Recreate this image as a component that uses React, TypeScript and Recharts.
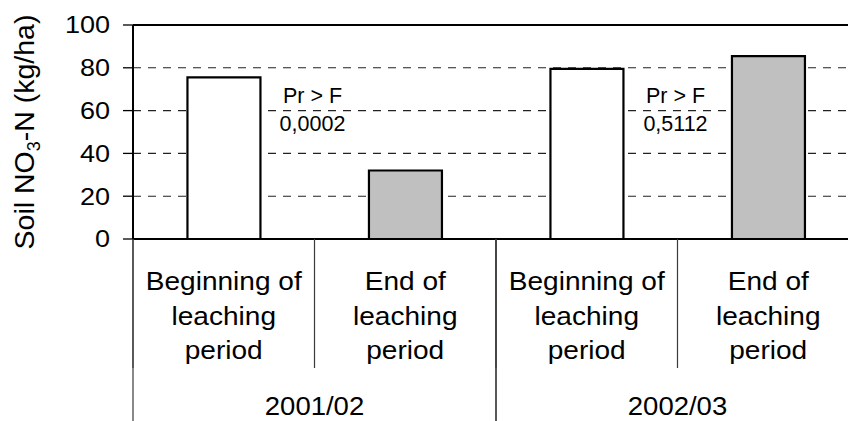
import {
  Bar,
  BarChart,
  CartesianGrid,
  Cell,
  ReferenceDot,
  ReferenceLine,
  XAxis,
  YAxis,
} from 'recharts'

// one entry per bar, in drawing order
const IDS = ['b0102', 'e0102', 'b0203', 'e0203']
const PERIOD_LINES = [
  ['Beginning of', 'leaching', 'period'],
  ['End of', 'leaching', 'period'],
  ['Beginning of', 'leaching', 'period'],
  ['End of', 'leaching', 'period'],
]
const YEARS = ['2001/02', '2001/02', '2002/03', '2002/03']
const STAGES = ['begin', 'end', 'begin', 'end']
const SOIL_NO3 = [75.5, 32, 79.5, 85.5] // kg/ha
const Y_TICKS = [0, 20, 40, 60, 80, 100]

// Pr > F annotations, placed between the two bars of each season
const P_AT = ['b0102', 'b0203']
const P_VALUES = ['0,0002', '0,5112']
const P_LEVEL = 63.5

const data = IDS.map((id, i) => ({
  id,
  year: YEARS[i],
  stage: STAGES[i],
  no3: SOIL_NO3[i],
}))

const FONT = '"Liberation Sans", Arial, Helvetica, sans-serif'
const STAGE_FILL: Record<string, string> = { begin: '#ffffff', end: '#c0c0c0' }

const CHART_W = 880
const CHART_H = 421
const MARGIN = { top: 25, right: 21, bottom: 0, left: 0 }
const Y_AXIS_W = 133
const PERIOD_AXIS_H = 130
const YEAR_AXIS_H = 52
const BAND = (CHART_W - MARGIN.left - MARGIN.right - Y_AXIS_W) / IDS.length

function YTick({ x, y, payload }: any) {
  return (
    <g transform={`translate(${x},${y}) scale(1.15,1)`}>
      <text x={0} y={0} dy={8.4} textAnchor="end" fontSize={23.5} fontFamily={FONT} fill="#000">
        {payload.value}
      </text>
    </g>
  )
}

function PeriodTick({ x, y, payload }: any) {
  const lines = PERIOD_LINES[IDS.indexOf(payload.value)] ?? []
  const left = x - BAND / 2
  return (
    <g>
      <line x1={left} x2={left} y1={y} y2={y + 129} stroke="#3a3a3a" strokeWidth={1.2} />
      <g transform={`translate(${x},${y}) scale(1.1,1)`}>
        {lines.map((t, k) => (
          <text
            key={k}
            x={0}
            y={51 + k * 34.6}
            textAnchor="middle"
            fontSize={25.5}
            fontFamily={FONT}
            fill="#000"
          >
            {t}
          </text>
        ))}
      </g>
    </g>
  )
}

function YearTick({ x, y, payload }: any) {
  return (
    <g>
      {[x - BAND, x + BAND].map((lx) => (
        <line
          key={lx}
          x1={lx}
          x2={lx}
          y1={y - PERIOD_AXIS_H}
          y2={y + YEAR_AXIS_H}
          stroke="#3a3a3a"
          strokeWidth={1.2}
        />
      ))}
      <g transform={`translate(${x},${y}) scale(1.1,1)`}>
        <text x={0} y={46} textAnchor="middle" fontSize={25} fontFamily={FONT} fill="#000">
          {payload.value}
        </text>
      </g>
    </g>
  )
}

function YTitle({ viewBox }: any) {
  const cx = (viewBox?.x ?? 0) + 33.5
  const cy = (viewBox?.y ?? 0) + (viewBox?.height ?? 0) / 2
  return (
    <text
      x={cx}
      y={cy}
      transform={`rotate(-90 ${cx} ${cy})`}
      textAnchor="middle"
      fontSize={28.5}
      fontFamily={FONT}
      fill="#000"
    >
      Soil NO
      <tspan fontSize={18} dy={6}>
        3
      </tspan>
      <tspan dy={-6}>-N (kg/ha)</tspan>
    </text>
  )
}

function PLabel({ viewBox, pValue }: any) {
  const cx = (viewBox?.x ?? 0) + BAND / 2 - 2
  const cy = viewBox?.y ?? 0
  return (
    <g>
      <text x={cx} y={cy} textAnchor="middle" fontSize={21.5} fontFamily={FONT} fill="#000">
        Pr &gt; F
      </text>
      <text x={cx} y={cy + 28} textAnchor="middle" fontSize={21.5} fontFamily={FONT} fill="#000">
        {pValue}
      </text>
    </g>
  )
}

export default function App() {
  return (
    <div
      style={{
        position: 'absolute',
        left: 0,
        top: 0,
        width: 848,
        height: CHART_H,
        overflow: 'hidden',
        background: '#fff',
      }}
    >
      <BarChart width={CHART_W} height={CHART_H} data={data} margin={MARGIN} barCategoryGap="30%">
        <CartesianGrid vertical={false} stroke="#222" strokeWidth={1.1} strokeDasharray="8 7" />
        <XAxis
          dataKey="id"
          interval={0}
          height={PERIOD_AXIS_H}
          axisLine={{ stroke: '#000', strokeWidth: 2 }}
          tickLine={false}
          tickSize={0}
          tickMargin={0}
          tick={<PeriodTick />}
        />
        <XAxis
          xAxisId="year"
          dataKey="year"
          allowDuplicatedCategory={false}
          interval={0}
          height={YEAR_AXIS_H}
          axisLine={false}
          tickLine={false}
          tickSize={0}
          tickMargin={0}
          tick={<YearTick />}
        />
        <YAxis
          width={Y_AXIS_W}
          domain={[0, 100]}
          ticks={Y_TICKS}
          interval={0}
          axisLine={{ stroke: '#000', strokeWidth: 2 }}
          tickLine={{ stroke: '#000', strokeWidth: 1.3 }}
          tickSize={10}
          tickMargin={13}
          tick={<YTick />}
          label={<YTitle />}
        />
        <ReferenceLine y={100} stroke="#000" strokeWidth={2} />
        <Bar dataKey="no3" stroke="#000" strokeWidth={2.2} isAnimationActive={false}>
          {data.map((d) => (
            <Cell key={d.id} fill={STAGE_FILL[d.stage]} />
          ))}
        </Bar>
        {P_AT.map((id, i) => (
          <ReferenceDot
            key={id}
            x={id}
            y={P_LEVEL}
            r={0}
            fill="none"
            stroke="none"
            label={<PLabel pValue={P_VALUES[i]} />}
          />
        ))}
      </BarChart>
    </div>
  )
}
